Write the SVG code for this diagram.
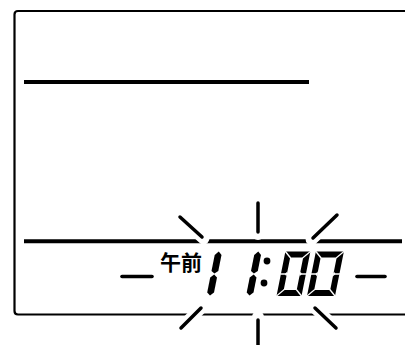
<svg xmlns="http://www.w3.org/2000/svg" width="405" height="345" viewBox="0 0 405 345">
  <style>
    .frame { fill: none; stroke: #000; stroke-width: 2.2; }
    .bar { stroke: #000; stroke-width: 4; }
    .dash { stroke: #000; stroke-width: 3.6; stroke-linecap: round; }
    .halo { stroke: #fff; stroke-width: 12; stroke-linecap: round; }
    .ray { stroke: #000; stroke-width: 3.5; stroke-linecap: round; }
    .seg { fill: #000; }
    .gap { stroke: #fff; stroke-width: 1.3; }
    .notch { fill: #fff; }
    .label { font-family: "Noto Sans CJK JP", "Noto Sans CJK SC", sans-serif; font-weight: 700; font-size: 21px; fill: #000; }
  </style>
  <rect width="405" height="345" fill="#fff"/>

  <g id="frame">
    <path class="frame" d="M405,11 H18 Q14.5,11 14.5,14.5 V311 Q14.5,314.5 18,314.5 H405"/>
  </g>

  <g id="bars">
    <line class="bar" x1="24" y1="82" x2="309" y2="82"/>
    <line class="bar" x1="24" y1="241.3" x2="402" y2="241.3"/>
  </g>

  <g id="dashes">
    <line class="dash" x1="122" y1="276.5" x2="152" y2="276.5"/>
    <line class="dash" x1="357" y1="276.5" x2="385" y2="276.5"/>
  </g>

  <g id="rays">
    <g id="ray-halos">
      <line class="halo" x1="180" y1="217" x2="203.5" y2="238.4"/>
      <line class="halo" x1="258" y1="203" x2="258" y2="234"/>
      <line class="halo" x1="337" y1="215" x2="311.6" y2="239.4"/>
      <line class="halo" x1="181" y1="328" x2="203" y2="306"/>
      <line class="halo" x1="258" y1="345" x2="258" y2="317"/>
      <line class="halo" x1="336" y1="328" x2="313" y2="306"/>
    </g>
    <line class="ray" x1="180" y1="217" x2="202" y2="237"/>
    <line class="ray" x1="258" y1="203" x2="258" y2="232"/>
    <line class="ray" x1="337" y1="215" x2="313" y2="238"/>
    <line class="ray" x1="181" y1="328" x2="201" y2="308"/>
    <line class="ray" x1="258" y1="345" x2="258" y2="320"/>
    <line class="ray" x1="336" y1="328" x2="315" y2="308"/>
  </g>

  <g id="label">
    <text class="label" x="160" y="270">午前</text>
  </g>

  <g id="digits">
    <defs>
      <g id="one">
        <polygon class="seg" points="3.4,-44.5 6.8,-41 6.8,-25 3.4,-22.5 0,-25 0,-41"/>
        <polygon class="seg" points="3.4,-21.5 6.8,-18.5 6.8,-3.5 3.4,-0.5 0,-3.5 0,-18.5"/>
      </g>
    </defs>
    <g id="digit-1a" transform="translate(206.5,296) skewX(-11.3)">
      <use href="#one"/>
    </g>
    <g id="digit-1b" transform="translate(246,296) skewX(-11.3)">
      <use href="#one"/>
    </g>
    <g id="colon">
      <circle cx="267" cy="261" r="3.4"/>
      <circle cx="264" cy="283" r="3.4"/>
    </g>
    <g id="digit-0a" transform="translate(276.5,296) skewX(-11.3)">
      <path class="seg" fill-rule="evenodd" d="M0,-44.5 H25 V0 H0 Z M6,-38.5 V-6 H19 V-38.5 Z"/>
      <line class="gap" x1="-0.5" y1="-45" x2="6.5" y2="-38"/>
      <line class="gap" x1="25.5" y1="-45" x2="18.5" y2="-38"/>
      <line class="gap" x1="-0.5" y1="0.5" x2="6.5" y2="-6.5"/>
      <line class="gap" x1="25.5" y1="0.5" x2="18.5" y2="-6.5"/>
      <line class="gap" x1="-0.5" y1="-22" x2="6.5" y2="-22"/>
      <line class="gap" x1="18.5" y1="-22" x2="25.5" y2="-22"/>
      <polygon class="notch" points="6,-24.5 4,-22 6,-19.5"/>
      <polygon class="notch" points="19,-24.5 21,-22 19,-19.5"/>
    </g>
    <g id="digit-0b" transform="translate(307,296) skewX(-11.3)">
      <path class="seg" fill-rule="evenodd" d="M0,-44.5 H28 V0 H0 Z M6,-38.5 V-6 H22 V-38.5 Z"/>
      <line class="gap" x1="-0.5" y1="-45" x2="6.5" y2="-38"/>
      <line class="gap" x1="28.5" y1="-45" x2="21.5" y2="-38"/>
      <line class="gap" x1="-0.5" y1="0.5" x2="6.5" y2="-6.5"/>
      <line class="gap" x1="28.5" y1="0.5" x2="21.5" y2="-6.5"/>
      <line class="gap" x1="-0.5" y1="-22" x2="6.5" y2="-22"/>
      <line class="gap" x1="21.5" y1="-22" x2="28.5" y2="-22"/>
      <polygon class="notch" points="6,-24.5 4,-22 6,-19.5"/>
      <polygon class="notch" points="22,-24.5 24,-22 22,-19.5"/>
    </g>
  </g>
</svg>
